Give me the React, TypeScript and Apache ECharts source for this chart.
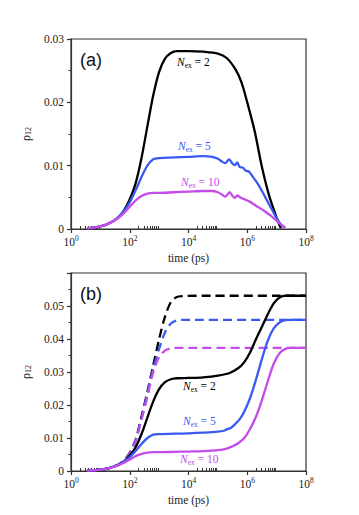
import React, { useEffect, useRef } from "react";
import * as echarts from "echarts";

// x values are log10(time / ps)
const X_TICKS = [0, 2, 4, 6, 8];
const MINOR_DECADES = [0, 2, 4, 6];
const MINOR_MULT = [2, 3, 4, 5, 6, 7, 8, 9];
const X_MINOR = MINOR_DECADES.flatMap((d) => MINOR_MULT.map((k) => d + Math.log10(k)));

const Y_TICKS_A = [0, 0.01, 0.02, 0.03];
const Y_TICKS_B = [0, 0.01, 0.02, 0.03, 0.04, 0.05];

// Panel (a)
const A_BLACK_LOGT = [0.55, 1.0, 1.3, 1.6, 1.8, 2.0, 2.2, 2.4, 2.6, 2.8, 3.0, 3.2, 3.4, 3.6, 4.0, 4.5, 5.0, 5.3, 5.6, 5.8, 6.0, 6.25, 6.5, 6.75, 7.0, 7.1, 7.15];
const A_BLACK = [0.0001, 0.0004, 0.0009, 0.0018, 0.0029, 0.0047, 0.0072, 0.0112, 0.0162, 0.0211, 0.0248, 0.0269, 0.0278, 0.0281, 0.0281, 0.0280, 0.0277, 0.0270, 0.0252, 0.0232, 0.0200, 0.0155, 0.0098, 0.0052, 0.0018, 0.0006, 0.0001];

const A_BLUE_LOGT = [0.55, 1.0, 1.3, 1.6, 1.8, 2.0, 2.2, 2.4, 2.6, 2.8, 3.0, 3.5, 4.0, 4.5, 4.8, 5.0, 5.15, 5.25, 5.38, 5.5, 5.58, 5.66, 5.74, 5.85, 5.95, 6.05, 6.2, 6.35, 6.5, 6.65, 6.8, 6.95, 7.1, 7.2, 7.28];
const A_BLUE = [0.0001, 0.0004, 0.0009, 0.0018, 0.0028, 0.0042, 0.0061, 0.0082, 0.0100, 0.0110, 0.0112, 0.0113, 0.0114, 0.0115, 0.0114, 0.0111, 0.0106, 0.0104, 0.0110, 0.0103, 0.0101, 0.0105, 0.0098, 0.0097, 0.0092, 0.0091, 0.0082, 0.0072, 0.0060, 0.0047, 0.0034, 0.0021, 0.0010, 0.0005, 0.0002];

const A_MAG_LOGT = [0.55, 1.0, 1.3, 1.6, 1.8, 2.0, 2.2, 2.4, 2.6, 2.8, 3.0, 3.5, 4.0, 4.5, 4.8, 5.0, 5.15, 5.25, 5.4, 5.5, 5.58, 5.66, 5.75, 5.85, 5.95, 6.05, 6.2, 6.35, 6.5, 6.65, 6.8, 6.95, 7.1, 7.2, 7.3];
const A_MAG = [0.0001, 0.0004, 0.0009, 0.0017, 0.0025, 0.0035, 0.0045, 0.0052, 0.0056, 0.0057, 0.0057, 0.0058, 0.0059, 0.0060, 0.0060, 0.0058, 0.0054, 0.0051, 0.0058, 0.0052, 0.0049, 0.0053, 0.0050, 0.0048, 0.0046, 0.0044, 0.0040, 0.0035, 0.0031, 0.0026, 0.0021, 0.0015, 0.0009, 0.0005, 0.0002];

// Panel (b) solid
const B_BLACK_LOGT = [0.55, 1.0, 1.3, 1.6, 1.8, 2.0, 2.2, 2.4, 2.6, 2.8, 3.0, 3.2, 3.4, 3.6, 4.0, 4.5, 5.0, 5.4, 5.7, 5.9, 6.1, 6.3, 6.5, 6.7, 6.9, 7.1, 7.3, 8.0];
const B_BLACK = [0.0001, 0.0004, 0.0009, 0.0018, 0.0029, 0.0047, 0.0072, 0.0112, 0.0162, 0.0211, 0.0248, 0.0269, 0.0278, 0.0281, 0.0282, 0.0284, 0.0289, 0.0297, 0.0312, 0.0330, 0.0360, 0.0400, 0.0437, 0.0475, 0.0508, 0.0526, 0.0531, 0.0531];

const B_BLUE_LOGT = [0.55, 1.0, 1.3, 1.6, 1.8, 2.0, 2.2, 2.4, 2.6, 2.8, 3.0, 3.5, 4.0, 4.5, 5.0, 5.2, 5.3, 5.45, 5.6, 5.75, 5.9, 6.1, 6.3, 6.5, 6.7, 6.9, 7.1, 7.3, 7.5, 8.0];
const B_BLUE = [0.0001, 0.0004, 0.0009, 0.0018, 0.0028, 0.0042, 0.0061, 0.0082, 0.0100, 0.0110, 0.0112, 0.0113, 0.0114, 0.0116, 0.0119, 0.0122, 0.0126, 0.0131, 0.0143, 0.0158, 0.0180, 0.0222, 0.0278, 0.0340, 0.0395, 0.0432, 0.0450, 0.0457, 0.0458, 0.0458];

const B_MAG_LOGT = [0.55, 1.0, 1.3, 1.6, 1.8, 2.0, 2.2, 2.4, 2.6, 2.8, 3.0, 3.5, 4.0, 4.5, 5.0, 5.3, 5.5, 5.7, 5.9, 6.1, 6.3, 6.5, 6.7, 6.9, 7.1, 7.3, 7.5, 8.0];
const B_MAG = [0.0001, 0.0004, 0.0009, 0.0017, 0.0025, 0.0035, 0.0045, 0.0052, 0.0056, 0.0057, 0.0057, 0.0058, 0.0059, 0.0060, 0.0063, 0.0068, 0.0075, 0.0085, 0.0100, 0.0128, 0.0165, 0.0215, 0.0272, 0.0325, 0.0357, 0.0370, 0.0373, 0.0373];

// Panel (b) dashed
const B_BLACK_D_LOGT = [0.55, 1.0, 1.3, 1.6, 1.8, 2.0, 2.2, 2.4, 2.6, 2.8, 3.0, 3.2, 3.4, 3.6, 3.8, 4.2, 8.0];
const B_BLACK_D = [0.0001, 0.0004, 0.0009, 0.0019, 0.0032, 0.0055, 0.0095, 0.0165, 0.0240, 0.0320, 0.0400, 0.0468, 0.0512, 0.0527, 0.0530, 0.0531, 0.0531];
const B_BLUE_D_LOGT = [0.55, 1.0, 1.3, 1.6, 1.8, 2.0, 2.2, 2.4, 2.6, 2.8, 3.0, 3.2, 3.4, 3.6, 3.8, 8.0];
const B_BLUE_D = [0.0001, 0.0004, 0.0009, 0.0019, 0.0032, 0.0054, 0.0093, 0.0160, 0.0235, 0.0310, 0.0370, 0.0420, 0.0447, 0.0456, 0.0458, 0.0458];
const B_MAG_D_LOGT = [0.55, 1.0, 1.3, 1.6, 1.8, 2.0, 2.2, 2.4, 2.6, 2.8, 3.0, 3.2, 3.4, 3.6, 8.0];
const B_MAG_D = [0.0001, 0.0004, 0.0009, 0.0019, 0.0031, 0.0053, 0.0090, 0.0155, 0.0225, 0.0300, 0.0345, 0.0365, 0.0372, 0.0373, 0.0373];

const BLACK = "#000000";
const BLUE = "#3a5af2";
const MAG = "#c44ce8";
const AXIS = "#333333";
const SERIF = "Liberation Serif";
const SANS = "Liberation Sans";

const zip = (xs: number[], ys: number[]) => xs.map((x, i) => [x, ys[i]]);

function xAxes(gridIndex: number) {
  return [
    {
      type: "value",
      gridIndex,
      min: 0,
      max: 8,
      interval: 2,
      position: "bottom",
      name: "time (ps)",
      nameLocation: "middle",
      nameGap: 23,
      nameTextStyle: { fontFamily: SERIF, fontSize: 11.5, color: "#222" },
      axisLine: { show: true, lineStyle: { color: AXIS, width: 1.2 } },
      axisTick: { show: true, inside: false, length: 4, customValues: X_TICKS, lineStyle: { color: AXIS, width: 1.2 } },
      axisLabel: {
        margin: 5,
        customValues: X_TICKS,
        formatter: (v: number) => `{b|10}{s|${v}}`,
        rich: {
          b: { fontFamily: SERIF, fontSize: 11.5, color: "#222" },
          s: { fontFamily: SERIF, fontSize: 7.5, color: "#222", padding: [0, 0, 7, 0] },
        },
      },
      splitLine: { show: false },
    },
    {
      type: "value",
      gridIndex,
      min: 0,
      max: 8,
      interval: 2,
      position: "bottom",
      axisLine: { show: false },
      axisTick: { show: true, inside: true, length: 3, customValues: X_MINOR, lineStyle: { color: AXIS, width: 1 } },
      axisLabel: { show: false },
      splitLine: { show: false },
    },
  ];
}

function yAxis(gridIndex: number, max: number, ticks: number[]) {
  return {
    type: "value",
    gridIndex,
    min: 0,
    max,
    interval: 0.01,
    name: "{r|ρ}{s|12}",
    nameLocation: "middle",
    nameRotate: 90,
    nameGap: 27,
    nameTextStyle: {
      rich: {
        r: { fontFamily: SERIF, fontSize: 12, color: "#222" },
        s: { fontFamily: SERIF, fontSize: 8, color: "#222", padding: [6, 0, 0, 0] },
      },
    },
    axisLine: { show: true, lineStyle: { color: AXIS, width: 1.2 } },
    axisTick: { show: true, inside: false, length: 4, lineStyle: { color: AXIS, width: 1.2 } },
    minorTick: { show: true, splitNumber: 2, length: 2.5, lineStyle: { color: AXIS, width: 1 } },
    axisLabel: {
      margin: 7,
      showMaxLabel: ticks.indexOf(max) >= 0,
      fontFamily: SERIF,
      fontSize: 11.5,
      color: "#222",
      formatter: (v: number) => (v === 0 ? "0" : v.toFixed(2)),
    },
    splitLine: { show: false },
  };
}

function line(name: string, xs: number[], ys: number[], color: string, xi: number, yi: number, dashed = false) {
  return {
    name,
    type: "line",
    xAxisIndex: xi,
    yAxisIndex: yi,
    data: zip(xs, ys),
    showSymbol: false,
    symbol: "none",
    smooth: 0.3,
    clip: true,
    lineStyle: { color, width: 2.3, type: dashed ? [9, 5] : "solid" },
    z: dashed ? 2 : 3,
  };
}

function nLabel(x: number, y: number, num: string, color: string) {
  return {
    type: "text",
    x,
    y,
    z: 10,
    style: {
      text: `{n|N}{e|ex}{r| = ${num}}`,
      fill: color,
      verticalAlign: "middle",
      rich: {
        n: { fontFamily: SERIF, fontStyle: "italic", fontSize: 11.5, fill: color },
        e: { fontFamily: SERIF, fontSize: 7.5, fill: color, padding: [6, 0, 0, 0] },
        r: { fontFamily: SERIF, fontSize: 11.5, fill: color },
      },
    },
  };
}

export default function App() {
  const ref = useRef<HTMLDivElement>(null);
  useEffect(() => {
    if (!ref.current) return;
    const chart = echarts.init(ref.current, null, { renderer: "svg" });
    chart.setOption({
      animation: false,
      backgroundColor: "#ffffff",
      textStyle: { fontFamily: SERIF },
      grid: [
        { left: 71, top: 39, width: 235, height: 190, show: true, borderColor: AXIS, borderWidth: 1.2, containLabel: false },
        { left: 71, top: 273, width: 235, height: 198, show: true, borderColor: AXIS, borderWidth: 1.2, containLabel: false },
      ],
      xAxis: [...xAxes(0), ...xAxes(1)],
      yAxis: [yAxis(0, 0.03, Y_TICKS_A), yAxis(1, 0.06, Y_TICKS_B)],
      series: [
        line("a-black", A_BLACK_LOGT, A_BLACK, BLACK, 0, 0),
        line("a-blue", A_BLUE_LOGT, A_BLUE, BLUE, 0, 0),
        line("a-mag", A_MAG_LOGT, A_MAG, MAG, 0, 0),
        line("b-black-d", B_BLACK_D_LOGT, B_BLACK_D, BLACK, 2, 1, true),
        line("b-blue-d", B_BLUE_D_LOGT, B_BLUE_D, BLUE, 2, 1, true),
        line("b-mag-d", B_MAG_D_LOGT, B_MAG_D, MAG, 2, 1, true),
        line("b-black", B_BLACK_LOGT, B_BLACK, BLACK, 2, 1),
        line("b-blue", B_BLUE_LOGT, B_BLUE, BLUE, 2, 1),
        line("b-mag", B_MAG_LOGT, B_MAG, MAG, 2, 1),
      ],
      graphic: [
        { type: "text", x: 80, y: 60, z: 10, style: { text: "(a)", fontFamily: SANS, fontSize: 18, fill: "#111", verticalAlign: "middle" } },
        { type: "text", x: 80, y: 294, z: 10, style: { text: "(b)", fontFamily: SANS, fontSize: 18, fill: "#111", verticalAlign: "middle" } },
        nLabel(177, 62, "2", BLACK),
        nLabel(178, 146, "5", BLUE),
        nLabel(181, 182, "10", MAG),
        nLabel(183, 386, "2", BLACK),
        nLabel(183, 421, "5", BLUE),
        nLabel(180, 459, "10", MAG),
      ],
    });
    return () => chart.dispose();
  }, []);
  return <div ref={ref} style={{ position: "absolute", left: 0, top: 0, width: 359, height: 515 }} />;
}
